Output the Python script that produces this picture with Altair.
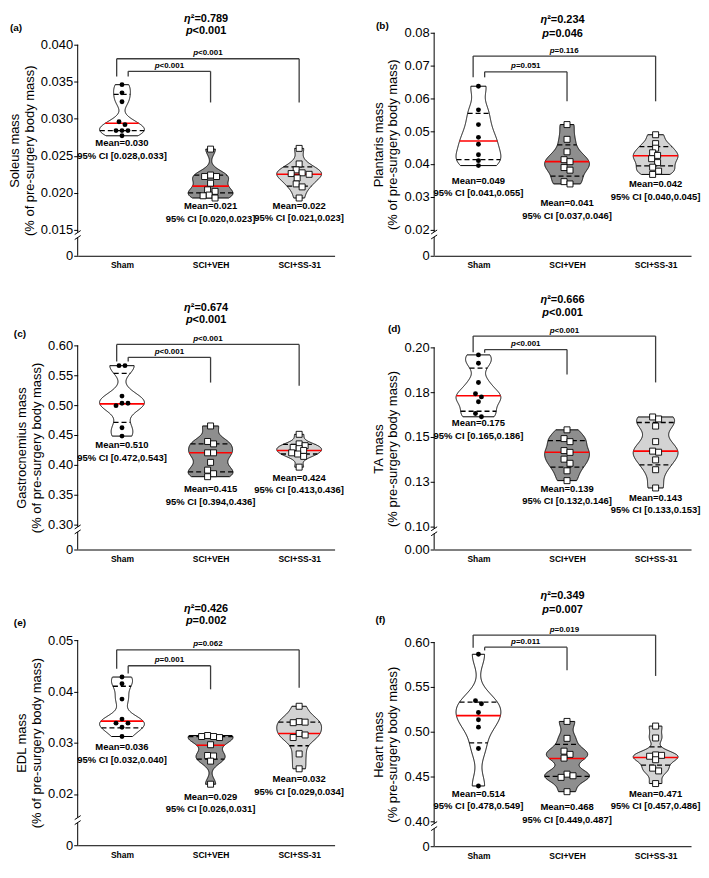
import altair as alt
import pandas as pd

FONT = "Liberation Sans"
GROUPS = ["Sham", "SCI+VEH", "SCI+SS-31"]

# ---------------- values ----------------
# (a) Soleus
soleus_sham = [0.0346, 0.0335, 0.0323, 0.0296, 0.0292, 0.0284, 0.0284, 0.0284, 0.0277]
soleus_veh = [0.0259, 0.0224, 0.0222, 0.0222, 0.0213, 0.0204, 0.0202, 0.0197, 0.0196, 0.0193]
soleus_ss31 = [0.0260, 0.0239, 0.0231, 0.0227, 0.0226, 0.0225, 0.0220, 0.0212, 0.0208, 0.0193]
soleus_q1 = [0.0284, 0.0200, 0.0209]
soleus_median = [0.0294, 0.0209, 0.0225]
soleus_q3 = [0.0333, 0.0224, 0.0235]
soleus_mean = ["0.030", "0.021", "0.022"]
soleus_ci = ["[0.028,0.033]", "[0.020,0.023]", "[0.021,0.023]"]
soleus_stats = ["0.789", "<0.001"]
soleus_pairs = ["<0.001", "<0.001"]

# (b) Plantaris
plantaris_sham = [0.0637, 0.0565, 0.0520, 0.0481, 0.0460, 0.0428, 0.0410, 0.0395]
plantaris_veh = [0.0520, 0.0475, 0.0437, 0.0413, 0.0407, 0.0389, 0.0381, 0.0346, 0.0339]
plantaris_ss31 = [0.0489, 0.0462, 0.0448, 0.0434, 0.0426, 0.0416, 0.0404, 0.0390, 0.0378, 0.0368]
plantaris_q1 = [0.0413, 0.0363, 0.0394]
plantaris_median = [0.0470, 0.0407, 0.0425]
plantaris_q3 = [0.0554, 0.0458, 0.0453]
plantaris_mean = ["0.049", "0.041", "0.042"]
plantaris_ci = ["[0.041,0.055]", "[0.037,0.046]", "[0.040,0.045]"]
plantaris_stats = ["0.234", "=0.046"]
plantaris_pairs = ["=0.051", "=0.116"]

# (c) Gastrocnemius
gastro_sham = [0.566, 0.566, 0.515, 0.503, 0.503, 0.499, 0.462, 0.448]
gastro_veh = [0.465, 0.439, 0.435, 0.420, 0.420, 0.404, 0.391, 0.385, 0.380]
gastro_ss31 = [0.451, 0.435, 0.432, 0.429, 0.427, 0.424, 0.420, 0.418, 0.414, 0.396]
gastro_q1 = [0.471, 0.388, 0.418]
gastro_median = [0.502, 0.420, 0.424]
gastro_q3 = [0.553, 0.435, 0.434]
gastro_mean = ["0.510", "0.415", "0.424"]
gastro_ci = ["[0.472,0.543]", "[0.394,0.436]", "[0.413,0.436]"]
gastro_stats = ["0.674", "<0.001"]
gastro_pairs = ["<0.001", "<0.001"]

# (d) TA
ta_sham = [0.1958, 0.1911, 0.1804, 0.1741, 0.1723, 0.1696, 0.1630, 0.1612]
ta_veh = [0.1539, 0.1490, 0.1473, 0.1423, 0.1413, 0.1375, 0.1352, 0.1310, 0.1255]
ta_ss31 = [0.1611, 0.1600, 0.1560, 0.1473, 0.1420, 0.1414, 0.1371, 0.1316, 0.1214]
ta_q1 = [0.1643, 0.1330, 0.1343]
ta_median = [0.1730, 0.1414, 0.1420]
ta_q3 = [0.1884, 0.1479, 0.1580]
ta_mean = ["0.175", "0.139", "0.143"]
ta_ci = ["[0.165,0.186]", "[0.132,0.146]", "[0.133,0.153]"]
ta_stats = ["0.666", "<0.001"]
ta_pairs = ["<0.001", "<0.001"]

# (e) EDL
edl_sham = [0.0428, 0.0415, 0.0385, 0.0346, 0.0338, 0.0338, 0.0330, 0.0312]
edl_veh = [0.0314, 0.0312, 0.0312, 0.0310, 0.0296, 0.0275, 0.0274, 0.0264, 0.0219]
edl_ss31 = [0.0371, 0.0341, 0.0340, 0.0339, 0.0318, 0.0315, 0.0310, 0.0278, 0.0249]
edl_q1 = [0.0329, 0.0268, 0.0294]
edl_median = [0.0342, 0.0295, 0.0318]
edl_q3 = [0.0410, 0.0312, 0.0340]
edl_mean = ["0.036", "0.029", "0.032"]
edl_ci = ["[0.032,0.040]", "[0.026,0.031]", "[0.029,0.034]"]
edl_stats = ["0.426", "=0.002"]
edl_pairs = ["=0.001", "=0.062"]

# (f) Heart
heart_sham = [0.5864, 0.5346, 0.5311, 0.5214, 0.5132, 0.5050, 0.4811, 0.4393]
heart_veh = [0.5114, 0.4925, 0.4782, 0.4746, 0.4704, 0.4525, 0.4507, 0.4489, 0.4329]
heart_ss31 = [0.5062, 0.4929, 0.4740, 0.4735, 0.4725, 0.4686, 0.4592, 0.4561, 0.4420]
heart_q1 = [0.4875, 0.4500, 0.4625]
heart_median = [0.5179, 0.4700, 0.4711]
heart_q3 = [0.5329, 0.4857, 0.4829]
heart_mean = ["0.514", "0.468", "0.471"]
heart_ci = ["[0.478,0.549]", "[0.449,0.487]", "[0.457,0.486]"]
heart_stats = ["0.349", "=0.007"]
heart_pairs = ["=0.011", "=0.019"]

# ---------------- layout / style ----------------
XMAX = 2.9
WIDTH = 258
PXU = WIDTH / XMAX
HALF = 22.5 / PXU
FILLS = ["white", "#8e8e8e", "#d3d3d3"]

PANELS = {
    "a": dict(tag="(a)", ytitle=["Soleus mass", "(% of pre-surgery body mass)"],
              groups=[soleus_sham, soleus_veh, soleus_ss31], q1=soleus_q1, med=soleus_median, q3=soleus_q3,
              mean=soleus_mean, ci=soleus_ci, stats=soleus_stats, pairs=soleus_pairs,
              height=212, top_ext=32, lo=0.0115, hi=0.040,
              ticks=[0.0115, 0.015, 0.020, 0.025, 0.030, 0.035, 0.040],
              tlabels=["0", "0.015", "0.020", "0.025", "0.030", "0.035", "0.040"],
              brk=0.0143, outer=(0.0381, 0.0357, 0.0322), inner=(0.0364, 0.0357, 0.0322),
              eta_dy=-26, p_dy=-14, tag_dy=-17, tag_dx=-62, txt_dy=(2.7, 3.4, 2.7), bwf=0.12),
    "b": dict(tag="(b)", ytitle=["Plantaris mass", "(% of pre-surgery body mass)"],
              groups=[plantaris_sham, plantaris_veh, plantaris_ss31], q1=plantaris_q1, med=plantaris_median,
              q3=plantaris_q3, mean=plantaris_mean, ci=plantaris_ci, stats=plantaris_stats, pairs=plantaris_pairs,
              height=224, top_ext=20, lo=0.012, hi=0.08,
              ticks=[0.012, 0.02, 0.03, 0.04, 0.05, 0.06, 0.07, 0.08],
              tlabels=["0", "0.02", "0.03", "0.04", "0.05", "0.06", "0.07", "0.08"],
              brk=0.0185, outer=(0.0729, 0.0664, 0.0591), inner=(0.0681, 0.0664, 0.0591),
              eta_dy=-13, p_dy=1, tag_dy=-7, tag_dx=-52, txt_dy=(10, 14.3, 5), bwf=0.12),
    "c": dict(tag="(c)", ytitle=["Gastrocnemius mass", "(% of pre-surgery body mass)"],
              groups=[gastro_sham, gastro_veh, gastro_ss31], q1=gastro_q1, med=gastro_median, q3=gastro_q3,
              mean=gastro_mean, ci=gastro_ci, stats=gastro_stats, pairs=gastro_pairs,
              height=205, top_ext=76, lo=0.258, hi=0.60,
              ticks=[0.258, 0.30, 0.35, 0.40, 0.45, 0.50, 0.55, 0.60],
              tlabels=["0", "0.30", "0.35", "0.40", "0.45", "0.50", "0.55", "0.60"],
              brk=0.2917, outer=(0.6016, 0.573, 0.5324), inner=(0.580, 0.573, 0.5377),
              eta_dy=-37.6, p_dy=-25, tag_dy=-11.6, tag_dx=-58, txt_dy=(4.4, 7.7, 5.7), bwf=0.12),
    "d": dict(tag="(d)", ytitle=["TA mass", "(% pre-surgery body mass)"],
              groups=[ta_sham, ta_veh, ta_ss31], q1=ta_q1, med=ta_median, q3=ta_q3,
              mean=ta_mean, ci=ta_ci, stats=ta_stats, pairs=ta_pairs,
              height=203, top_ext=78, lo=0.087, hi=0.20,
              ticks=[0.087, 0.10, 0.125, 0.15, 0.175, 0.20],
              tlabels=["0.00", "0.10", "0.13", "0.15", "0.18", "0.20"],
              brk=0.0972, outer=(0.2063, 0.1973, 0.1804), inner=(0.1988, 0.1970, 0.1848),
              eta_dy=-48, p_dy=-35, tag_dy=-18, tag_dx=-40, txt_dy=(1.7, 3, 5), bwf=0.12),
    "e": dict(tag="(e)", ytitle=["EDL mass", "(% of pre-surgery body mass)"],
              groups=[edl_sham, edl_veh, edl_ss31], q1=edl_q1, med=edl_median, q3=edl_q3,
              mean=edl_mean, ci=edl_ci, stats=edl_stats, pairs=edl_pairs,
              height=206, top_ext=77, lo=0.01, hi=0.05,
              ticks=[0.01, 0.02, 0.03, 0.04, 0.05],
              tlabels=["0", "0.02", "0.03", "0.04", "0.05"],
              brk=0.0149, outer=(0.0481, 0.0444, 0.0407), inner=(0.0450, 0.0435, 0.0404),
              eta_dy=-31, p_dy=-19, tag_dy=-17, tag_dx=-58, txt_dy=(6, 7.6, 5.3), bwf=0.12),
    "f": dict(tag="(f)", ytitle=["Heart mass", "(% pre-surgery body mass)"],
              groups=[heart_sham, heart_veh, heart_ss31], q1=heart_q1, med=heart_median, q3=heart_q3,
              mean=heart_mean, ci=heart_ci, stats=heart_stats, pairs=heart_pairs,
              height=205, top_ext=79, lo=0.372, hi=0.60,
              ticks=[0.372, 0.40, 0.45, 0.50, 0.55, 0.60],
              tlabels=["0", "0.40", "0.45", "0.50", "0.55", "0.60"],
              brk=0.3945, outer=(0.6078, 0.5936, 0.5622), inner=(0.5943, 0.5907, 0.5686),
              eta_dy=-46, p_dy=-32, tag_dy=-22, tag_dx=-54, txt_dy=(2.7, 10.7, 5.2), bwf=0.09),
}

CHARW = {'.': 0.278, ',': 0.278, '=': 0.584, '<': 0.584, '\u00b2': 0.333, '\u03b7': 0.611, 'p': 0.611}


def tw(s, size):
    return sum(CHARW.get(c, 0.556) for c in s) * size


def one_row():
    return pd.DataFrame({"o": [0]})


def swarm(vals, ypx, step=6.0, mind=4.6):
    placed, ks = [], []
    for v in vals:
        y = v * ypx
        for k in [0, 1, -1, 2, -2, 3, -3, 4, -4]:
            x = k * step
            if all((x - px) ** 2 + (y - py) ** 2 >= mind ** 2 for px, py in placed):
                break
        placed.append((x, y))
        ks.append(k)
    n = len(vals)
    seen = set()
    out = list(ks)
    for i in range(n):
        if i in seen:
            continue
        cl = [j for j in range(n) if abs(placed[j][1] - placed[i][1]) < mind]
        seen.update(cl)
        m = sum(ks[j] for j in cl) / len(cl)
        for j in cl:
            out[j] = ks[j] - m
    return [k * step / PXU for k in out]


XSCALE = alt.Scale(domain=[0, XMAX], nice=False, zero=False)
XAXIS = alt.Axis(values=[0.5, 1.5, 2.5],
                 labelExpr="['Sham','SCI+VEH','SCI+SS-31'][round(datum.value - 0.5)]",
                 title=None, grid=False, ticks=False, domainColor="black", domainWidth=1,
                 labelFont=FONT, labelFontSize=8.5, labelFontWeight="bold", labelColor="black",
                 labelPadding=5, labelFlush=False)


def X(f):
    return alt.X(f, type="quantitative", scale=XSCALE, axis=XAXIS)


def Xd(v):
    return alt.XDatum(v, type="quantitative", scale=XSCALE, axis=XAXIS)


def panel(P):
    lo, hi, H = P["lo"], P["hi"], P["height"]
    ypx = H / (hi - lo)
    top = hi + P["top_ext"] / ypx
    ysc = alt.Scale(domain=[lo, top], nice=False, zero=False)
    expr = ("[" + ",".join("'%s'" % s for s in P["tlabels"]) + "][indexof(["
            + ",".join(repr(t) for t in P["ticks"]) + "], datum.value)]")
    yax = alt.Axis(values=P["ticks"], labelExpr=expr, title=P["ytitle"], grid=False,
                   tickSize=4, tickColor="black", domain=False,
                   labelFont=FONT, labelFontSize=13, labelColor="black", labelPadding=1,
                   titleFont=FONT, titleFontSize=13, titleFontWeight="normal", titleColor="black",
                   titleLineHeight=15, titlePadding=4, titleY=P["top_ext"] + H / 2)

    def Y(f):
        return alt.Y(f, type="quantitative", scale=ysc, axis=yax)

    def Yd(v):
        return alt.YDatum(v, type="quantitative", scale=ysc, axis=yax)

    def split_label(x, y, it, rest, size, dy, baseline="middle"):
        total = tw(it + rest, size)
        off = -total / 2 + tw(it, size)
        common = dict(font=FONT, fontSize=size, fontWeight="bold", baseline=baseline,
                      dy=dy, dx=off, color="black")
        a = alt.Chart(one_row()).mark_text(text=it, align="right", fontStyle="italic", **common
                                           ).encode(x=Xd(x), y=Yd(y))
        b = alt.Chart(one_row()).mark_text(text=rest, align="left", **common).encode(x=Xd(x), y=Yd(y))
        return [a, b]

    rows = []
    for gi, vals in enumerate(P["groups"]):
        offs = swarm(vals, ypx)
        for v, o in zip(vals, offs):
            rows.append({"g": GROUPS[gi], "v": v, "px": gi + 0.5 + o})
    df = pd.DataFrame(rows)

    layers = []
    # y-axis line (drawn as a mark so that the blank band above the top tick has no line)
    layers.append(alt.Chart(one_row()).mark_rule(color="black", strokeWidth=1)
                  .encode(x=Xd(0), y=Yd(lo), y2=alt.datum(hi)))

    for gi, vals in enumerate(P["groups"]):
        g = GROUPS[gi]
        c = gi + 0.5
        vlo, vhi = min(vals), max(vals)
        bw = P["bwf"] * (vhi - vlo)
        area = alt.Chart().mark_area(orient="horizontal", fill=FILLS[gi], stroke="black",
                                     strokeWidth=1, fillOpacity=1, opacity=1
                                     ).encode(y=Y("v"), x=X("xl"), x2="xr")
        rules = []
        for Q, col, dashed, sw in [(P["q1"][gi], "black", True, 1.3),
                                   (P["q3"][gi], "black", True, 1.3),
                                   (P["med"][gi], "#ff0000", False, 1.6)]:
            mk = dict(color=col, strokeWidth=sw)
            if dashed:
                mk["strokeDash"] = [5, 3]
            r = (alt.Chart()
                 .transform_calculate(dq="abs(datum.v - %r)" % Q)
                 .transform_joinaggregate(mq="min(dq)")
                 .transform_filter("datum.dq == datum.mq")
                 .mark_rule(**mk)
                 .encode(y=Yd(Q), x=X("xl"), x2="xr"))
            rules.append(r)
        grp = (alt.layer(area, *rules)
               .transform_filter("datum.g == '%s'" % g)
               .transform_density("v", as_=["v", "dens"], extent=[vlo, vhi], bandwidth=bw, steps=240)
               .transform_joinaggregate(maxd="max(dens)")
               .transform_calculate(xl="%r - %r * datum.dens / datum.maxd" % (c, HALF),
                                    xr="%r + %r * datum.dens / datum.maxd" % (c, HALF)))
        layers.append(grp)

    sham_pts = (alt.Chart().transform_filter("datum.g == 'Sham'")
                .mark_point(shape="circle", filled=True, color="black", size=24, opacity=1)
                .encode(x=X("px"), y=Y("v")))
    sq_pts = (alt.Chart().transform_filter("datum.g != 'Sham'")
              .mark_point(shape="square", filled=True, fill="white", stroke="black",
                          strokeWidth=0.9, size=36, opacity=1)
              .encode(x=X("px"), y=Y("v")))
    layers += [sham_pts, sq_pts]

    for gi, vals in enumerate(P["groups"]):
        t = (alt.Chart(one_row())
             .mark_text(text="Mean=%s\n95%% CI %s" % (P["mean"][gi], P["ci"][gi]), lineBreak="\n",
                        lineHeight=12.5, font=FONT, fontSize=9.5, fontWeight="bold", align="center",
                        baseline="top", dy=P["txt_dy"][gi], color="black")
             .encode(x=Xd(gi + 0.5), y=Yd(min(vals))))
        layers.append(t)

    yo, ol, orr = P["outer"]
    yi, il, ir = P["inner"]
    xo, xi = 0.5 - 0.06, 0.5 + 0.07
    segs = pd.DataFrame([
        dict(x=xo, x2=2.5, y=yo, y2=yo), dict(x=xo, x2=xo, y=yo, y2=ol), dict(x=2.5, x2=2.5, y=yo, y2=orr),
        dict(x=xi, x2=1.5, y=yi, y2=yi), dict(x=xi, x2=xi, y=yi, y2=il), dict(x=1.5, x2=1.5, y=yi, y2=ir)])
    layers.append(alt.Chart(segs).mark_rule(color="#3c3c3c", strokeWidth=1.3)
                  .encode(x=X("x"), x2="x2", y=Y("y"), y2="y2"))
    layers += split_label((xi + 1.5) / 2, yi, "p", P["pairs"][0], 8, -1.5, "bottom")
    layers += split_label((xo + 2.5) / 2, yo, "p", P["pairs"][1], 8, -1.5, "bottom")
    layers += split_label(1.45, hi, "\u03b7", "\u00b2=" + P["stats"][0], 11, P["eta_dy"])
    layers += split_label(1.45, hi, "p", P["stats"][1], 11, P["p_dy"])
    layers.append(alt.Chart(one_row()).mark_text(text=P["tag"], font=FONT, fontSize=10, fontWeight="bold",
                                                 align="center", baseline="middle", dx=P["tag_dx"],
                                                 dy=P["tag_dy"], color="black")
                  .encode(x=Xd(0), y=Yd(hi)))

    # axis break
    brk = P["brk"]
    gp = 2.5 / ypx
    sl = 2.0 / ypx
    du = 3.0 / PXU
    layers.append(alt.Chart(one_row()).mark_rule(color="white", strokeWidth=4)
                  .encode(x=Xd(0), y=Yd(brk - gp), y2=alt.datum(brk + gp)))
    for yy in (brk - gp, brk + gp):
        layers.append(alt.Chart(one_row()).mark_rule(color="black", strokeWidth=1)
                      .encode(x=Xd(-du), x2=alt.datum(du), y=Yd(yy - sl), y2=alt.datum(yy + sl)))

    return alt.layer(*layers, data=df).properties(width=WIDTH, height=H + P["top_ext"])


left = alt.vconcat(panel(PANELS["a"]), panel(PANELS["c"]), panel(PANELS["e"]), spacing=0)
right = alt.vconcat(panel(PANELS["b"]), panel(PANELS["d"]), panel(PANELS["f"]), spacing=0)
chart = (alt.hconcat(left, right, spacing=27)
         .properties(padding={"left": 0, "right": 0, "top": 2, "bottom": 0}, background="white")
         .configure_view(stroke=None))

chart.save("out.html", embed_options={"renderer": "svg", "actions": False})
